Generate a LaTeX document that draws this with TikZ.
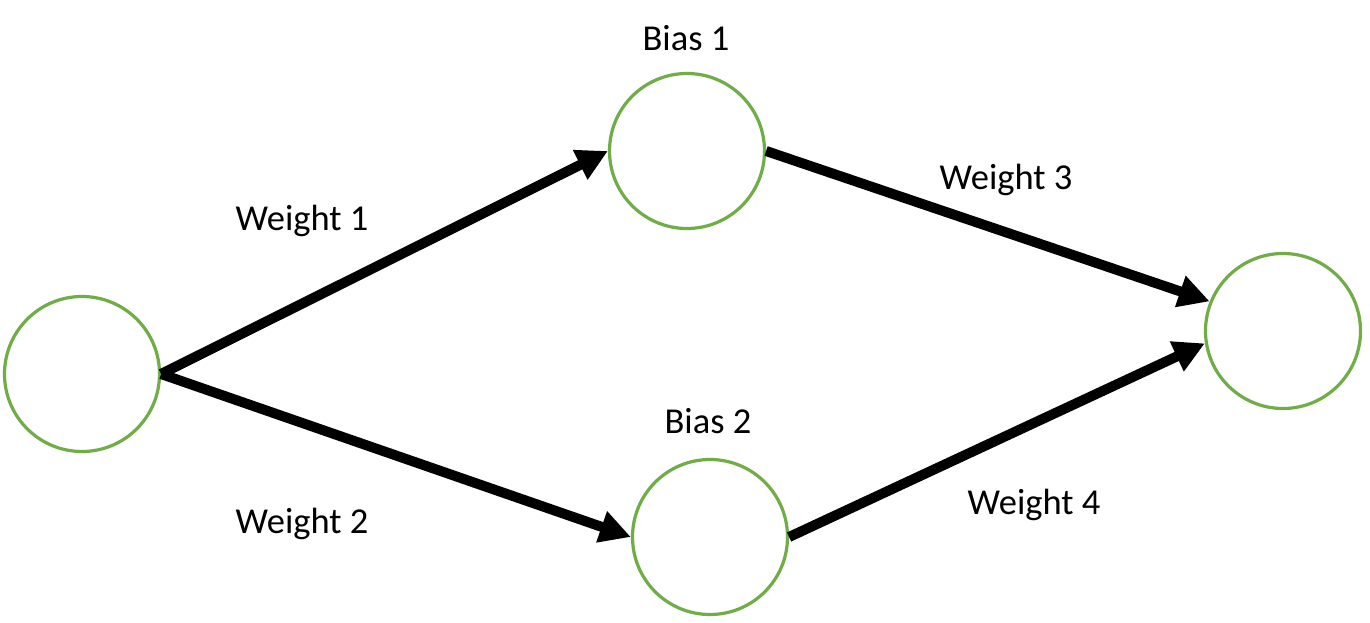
\documentclass[tikz,border=0pt]{standalone}
\usepackage{fontspec}
\setmainfont{Carlito}
\usetikzlibrary{arrows.meta}
\definecolor{nodegreen}{HTML}{70AD47}
\begin{document}
\begin{tikzpicture}[x=1pt,y=-1pt,
  neuron/.style={circle,draw=nodegreen,line width=3.2pt,minimum size=155pt,inner sep=0pt,fill=white},
  lbl/.style={inner sep=0pt,anchor=base,font=\fontsize{36.5}{44}\selectfont},
  conn/.style={line width=10pt,-{Triangle[length=31pt,width=31pt]}}]
\useasboundingbox[fill=white] (0,0) rectangle (1370,623);
\node[neuron] (l) at (82,374) {};
\node[neuron] (t) at (687,151) {};
\node[neuron] (b) at (710,537) {};
\node[neuron] (r) at (1283,331) {};
\node[lbl] (bias1) at (686,51) {Bias 1};
\node[lbl] (bias2) at (708,433) {Bias 2};
\node[lbl] (w1) at (302,230) {Weight 1};
\node[lbl] (w2) at (302,533) {Weight 2};
\node[lbl] (w3) at (1006,189) {Weight 3};
\node[lbl] (w4) at (1034,514) {Weight 4};
\draw[conn] (l.east) -- (t.west);
\draw[conn] (l.east) -- (b.west);
\draw[conn] (t.east) -- (r.158);
\draw[conn] (b.east) -- (r.189);
\end{tikzpicture}
\end{document}
